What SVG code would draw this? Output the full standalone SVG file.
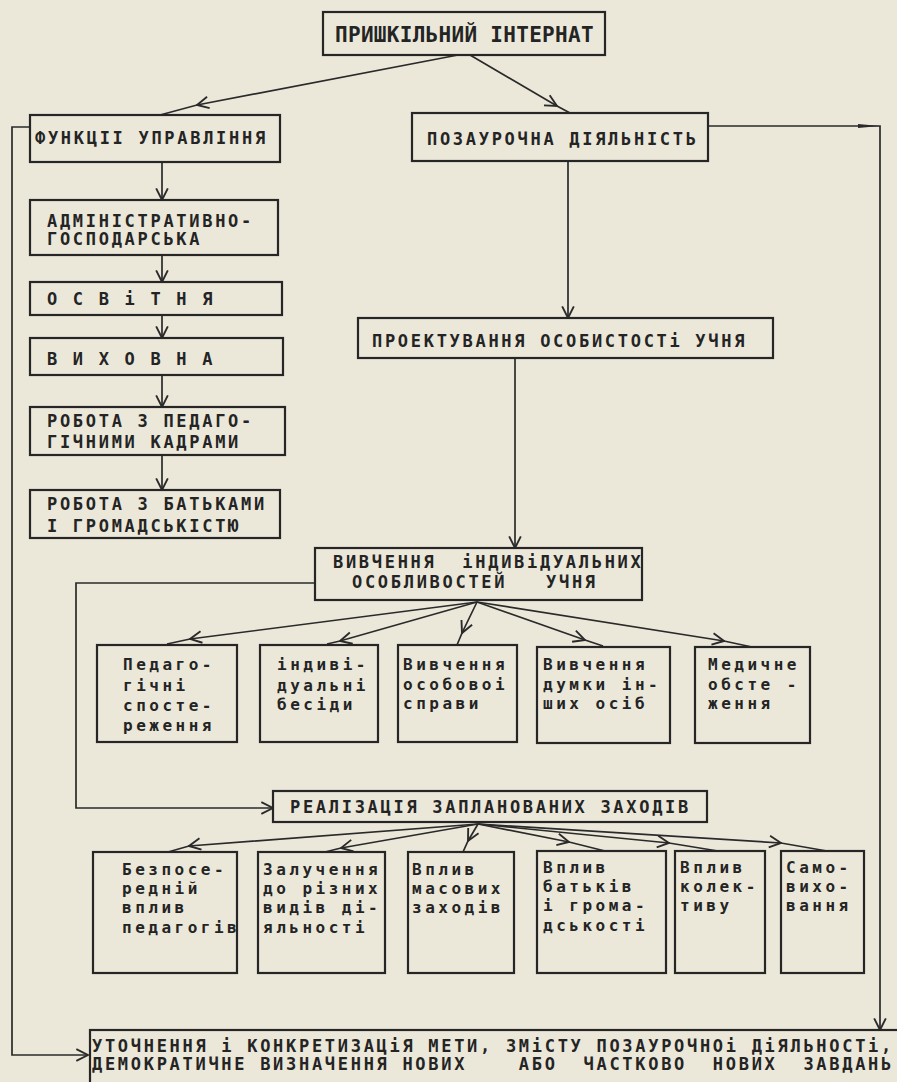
<svg xmlns="http://www.w3.org/2000/svg" width="897" height="1082" viewBox="0 0 897 1082">
<defs>
<style>
.box{fill:none;stroke:#262626;stroke-width:2.2}
.ln{fill:none;stroke:#2a2a2a;stroke-width:1.7}
.ar{marker-end:url(#chev)}
.am{marker-mid:url(#chev)}
text{font-family:"DejaVu Sans Mono","Liberation Mono",monospace;font-weight:bold;fill:#242424}
.h{font-size:17px;letter-spacing:2.7px}
.l{font-size:16px;letter-spacing:3.5px}
.big{font-size:21px;letter-spacing:0.3px}
</style>
<marker id="chev" markerUnits="userSpaceOnUse" markerWidth="14" markerHeight="14" viewBox="0 0 12 12" refX="11" refY="6" orient="auto">
<path d="M1,1 L11,6 L1,11" fill="none" stroke="#2a2a2a" stroke-width="1.6"/>
</marker>
</defs>
<rect x="0" y="0" width="897" height="1082" fill="#ebe8da"/>

<g id="connectors">
<path class="ln am" d="M458,55 L197,105 L160,115"/>
<path class="ln am" d="M470,55 L557,106 L570,113"/>
<path class="ln ar" d="M162,162 V200"/>
<path class="ln ar" d="M162,255 V282"/>
<path class="ln ar" d="M162,315 V338"/>
<path class="ln ar" d="M162,375 V407"/>
<path class="ln ar" d="M162,455 V490"/>
<path class="ln ar" d="M30,127 H12 V1055 H88"/>
<path class="ln ar" d="M568,161 V318"/>
<path class="ln ar" d="M708,126 H880 V1030"/>
<path d="M858,124 L880,126 L858,128 Z" fill="#2a2a2a"/>
<path class="ln ar" d="M515,358 V548"/>
<path class="ln ar" d="M315,583 H76 V808 H273"/>
<path class="ln am" d="M477,602 L190,639 L167,644"/>
<path class="ln am" d="M477,602 L340,641 L327,644"/>
<path class="ln am" d="M477,602 L462,633 L457,645"/>
<path class="ln am" d="M477,602 L585,640 L603,646"/>
<path class="ln am" d="M477,602 L724,641 L752,647"/>
<path class="ln am" d="M478,824 L189,846 L168,852"/>
<path class="ln am" d="M478,824 L341,848 L325,852"/>
<path class="ln am" d="M478,824 L468,841 L463,852"/>
<path class="ln am" d="M478,824 L569,842 L605,851"/>
<path class="ln am" d="M478,824 L669,843 L718,851"/>
<path class="ln am" d="M478,824 L781,843 L827,851"/>
</g>

<g id="n-internat"><rect class="box" x="323" y="12" width="282" height="43"/><text class="big" x="335" y="42">ПРИШКІЛЬНИЙ ІНТЕРНАТ</text></g>
<g id="n-funktsii"><rect class="box" x="30" y="115" width="250" height="47"/><text class="h" x="35" y="144">ФУНКЦІІ УПРАВЛІННЯ</text></g>
<g id="n-pozaurochna"><rect class="box" x="412" y="113" width="296" height="48"/><text class="h" x="427" y="145">ПОЗАУРОЧНА ДІЯЛЬНІСТЬ</text></g>
<g id="n-adm"><rect class="box" x="30" y="200" width="248" height="55"/><text class="h" x="47" y="227">АДМІНІСТРАТИВНО-</text><text class="h" x="47" y="245">ГОСПОДАРСЬКА</text></g>
<g id="n-osvitnya"><rect class="box" x="30" y="282" width="252" height="33"/><text class="h" x="47" y="305">О С В і Т Н Я</text></g>
<g id="n-vykhovna"><rect class="box" x="30" y="338" width="253" height="37"/><text class="h" x="47" y="365">В И Х О В Н А</text></g>
<g id="n-kadry"><rect class="box" x="30" y="407" width="255" height="48"/><text class="h" x="47" y="427">РОБОТА З ПЕДАГО-</text><text class="h" x="47" y="448">ГІЧНИМИ КАДРАМИ</text></g>
<g id="n-batky"><rect class="box" x="30" y="490" width="250" height="48"/><text class="h" x="47" y="510">РОБОТА З БАТЬКАМИ</text><text class="h" x="47" y="532">І ГРОМАДСЬКІСТЮ</text></g>
<g id="n-proekt"><rect class="box" x="358" y="318" width="415" height="40"/><text class="h" x="372" y="347">ПРОЕКТУВАННЯ ОСОБИСТОСТі УЧНЯ</text></g>
<g id="n-vyvchennya"><rect class="box" x="315" y="548" width="327" height="52"/><text class="h" x="333" y="568" xml:space="preserve">ВИВЧЕННЯ  іНДИВіДУАЛЬНИХ</text><text class="h" x="352" y="588" xml:space="preserve">ОСОБЛИВОСТЕЙ   УЧНЯ</text></g>

<g id="n-sposterezh"><rect class="box" x="97" y="645" width="140" height="97"/><text class="l" x="123" y="670">Педаго-</text><text class="l" x="123" y="691">гічні</text><text class="l" x="123" y="711">спосте-</text><text class="l" x="123" y="731">реження</text></g>
<g id="n-besidy"><rect class="box" x="260" y="645" width="118" height="97"/><text class="l" x="277" y="670">індиві-</text><text class="l" x="277" y="691">дуальні</text><text class="l" x="277" y="710">бесіди</text></g>
<g id="n-sprava"><rect class="box" x="398" y="645" width="119" height="97"/><text class="l" x="403" y="670">Вивчення</text><text class="l" x="403" y="690">особовоі</text><text class="l" x="403" y="709">справи</text></g>
<g id="n-dumky"><rect class="box" x="537" y="647" width="133" height="96"/><text class="l" x="543" y="670">Вивчення</text><text class="l" x="543" y="690">думки ін-</text><text class="l" x="543" y="709">ших осіб</text></g>
<g id="n-medychne"><rect class="box" x="695" y="647" width="115" height="96"/><text class="l" x="708" y="670">Медичне</text><text class="l" x="708" y="690">обсте -</text><text class="l" x="708" y="709">ження</text></g>

<g id="n-realizatsiya"><rect class="box" x="273" y="791" width="434" height="31"/><text class="h" x="290" y="813">РЕАЛІЗАЦІЯ ЗАПЛАНОВАНИХ ЗАХОДІВ</text></g>

<g id="n-bezposered"><rect class="box" x="93" y="852" width="144" height="121"/><text class="l" x="122" y="875">Безпосе-</text><text class="l" x="122" y="894">редній</text><text class="l" x="122" y="913">вплив</text><text class="l" x="122" y="933">педагогів</text></g>
<g id="n-zaluch"><rect class="box" x="258" y="852" width="127" height="121"/><text class="l" x="263" y="875">Залучення</text><text class="l" x="263" y="894">до різних</text><text class="l" x="263" y="913">видів ді-</text><text class="l" x="263" y="933">яльності</text></g>
<g id="n-masovi"><rect class="box" x="408" y="852" width="106" height="121"/><text class="l" x="412" y="875">Вплив</text><text class="l" x="412" y="894">масових</text><text class="l" x="412" y="913">заходів</text></g>
<g id="n-batkiv"><rect class="box" x="537" y="851" width="129" height="122"/><text class="l" x="543" y="873">Вплив</text><text class="l" x="543" y="892">батьків</text><text class="l" x="543" y="911">і грома-</text><text class="l" x="543" y="931">дськості</text></g>
<g id="n-kolektyv"><rect class="box" x="675" y="851" width="90" height="122"/><text class="l" x="680" y="873">Вплив</text><text class="l" x="680" y="892">колек-</text><text class="l" x="680" y="911">тиву</text></g>
<g id="n-samovykh"><rect class="box" x="781" y="851" width="83" height="122"/><text class="l" x="786" y="873">Само-</text><text class="l" x="786" y="892">вихо-</text><text class="l" x="786" y="911">вання</text></g>

<g id="n-utochnennya"><rect class="box" x="90" y="1030" width="830" height="70"/><text class="h" x="92" y="1052" xml:space="preserve">УТОЧНЕННЯ і КОНКРЕТИЗАЦіЯ МЕТИ, ЗМіСТУ ПОЗАУРОЧНОі ДіЯЛЬНОСТі,</text><text class="h" x="92" y="1070" xml:space="preserve">ДЕМОКРАТИЧНЕ ВИЗНАЧЕННЯ НОВИХ    АБО  ЧАСТКОВО  НОВИХ  ЗАВДАНЬ</text></g>
</svg>
